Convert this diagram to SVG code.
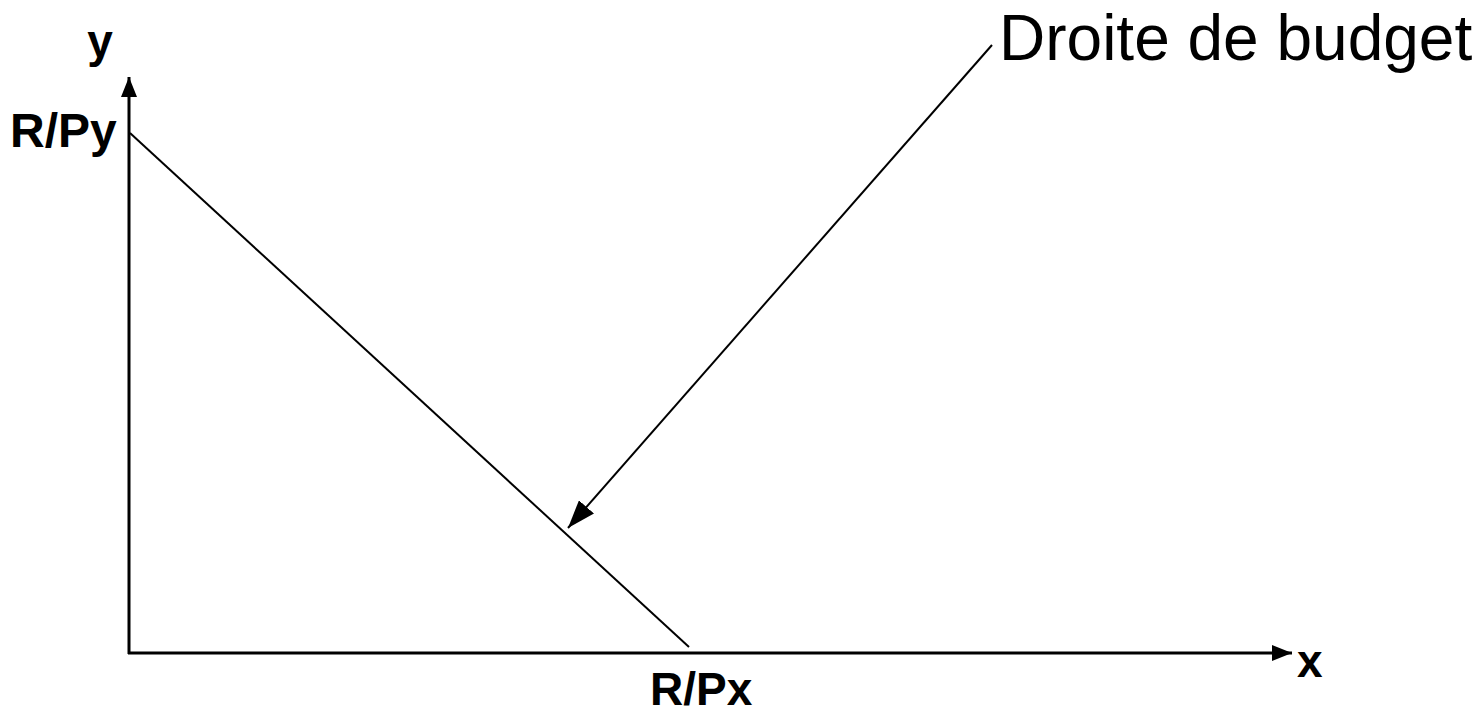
<svg xmlns="http://www.w3.org/2000/svg" width="1478" height="713" viewBox="0 0 1478 713">
<style>
.b{font-family:"Liberation Sans",Arial,sans-serif;font-weight:bold;font-size:46px;fill:#000}
.r{font-family:"Liberation Sans",Arial,sans-serif;font-size:64px;fill:#000}
.ax{stroke:#000;stroke-width:3;fill:none}
.ln{stroke:#000;stroke-width:2;fill:none}
</style>
<defs>
<marker id="ahl" markerWidth="28" markerHeight="20" refX="28" refY="10" orient="auto" markerUnits="userSpaceOnUse"><path d="M0,0 L28,10 L0,20 Z" fill="#000"/></marker>
<marker id="axm" markerWidth="20" markerHeight="16" refX="20" refY="8" orient="auto" markerUnits="userSpaceOnUse"><path d="M0,0 L20,8 L0,16 Z" fill="#000"/></marker>
</defs>
<g id="connectors">
<line class="ax" x1="129" y1="654" x2="129" y2="77" marker-end="url(#axm)"/>
<line class="ax" x1="128" y1="653" x2="1292" y2="653" marker-end="url(#axm)"/>
<line class="ln" x1="130" y1="133" x2="689" y2="647"/>
<line class="ln" x1="992" y1="45" x2="568" y2="528" marker-end="url(#ahl)"/>
</g>
<g id="label-y"><text class="b" x="100" y="57" text-anchor="middle">y</text></g>
<g id="label-rpy"><text class="b" x="10" y="147" style="font-size:48px">R/Py</text></g>
<g id="label-x"><text class="b" x="1297" y="677">x</text></g>
<g id="label-rpx"><text class="b" x="650" y="705">R/Px</text></g>
<g id="label-droite"><text class="r" x="999" y="60">Droite de budget</text></g>
</svg>
